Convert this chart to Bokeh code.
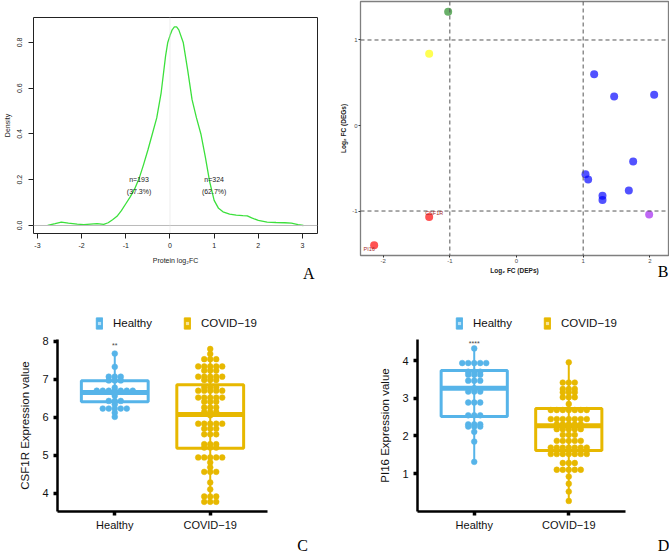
from bokeh.plotting import figure
from bokeh.layouts import column, row
from bokeh.models import Span, Label, Legend, LegendItem, FixedTicker, LinearAxis
from bokeh.embed import file_html
from bokeh.resources import INLINE

NAN = float("nan")

# ---------------- Panel A data (density of protein log2FC) ----------------
density_x = [-2.77, -2.6, -2.46, -2.3, -2.1, -1.95, -1.8, -1.65, -1.5, -1.4, -1.3, -1.2,
             -1.1, -1.0, -0.9, -0.8, -0.7, -0.6, -0.5, -0.4, -0.3, -0.2, -0.1, -0.05, 0.0,
             0.05, 0.1, 0.15, 0.2, 0.3, 0.4, 0.5, 0.6, 0.7, 0.8, 0.9, 1.0, 1.1, 1.2, 1.35,
             1.5, 1.65, 1.75, 1.85, 2.0, 2.2, 2.4, 2.6, 2.75, 2.9, 3.02]
density_y = [0.0, 0.008, 0.015, 0.01, 0.006, 0.004, 0.006, 0.008, 0.005, 0.012, 0.025, 0.04,
             0.065, 0.095, 0.125, 0.16, 0.205, 0.265, 0.33, 0.40, 0.47, 0.58, 0.74, 0.80, 0.83,
             0.855, 0.868, 0.868, 0.855, 0.80, 0.68, 0.55, 0.47, 0.40, 0.30, 0.19, 0.11, 0.075,
             0.06, 0.05, 0.045, 0.043, 0.042, 0.033, 0.022, 0.015, 0.013, 0.012, 0.01, 0.004, 0.0]
count_labels = ["n=193", "n=324"]
pct_labels = ["(37.3%)", "(62.7%)"]
count_label_x = [-0.7, 1.0]
count_label_y = [0.2, 0.15]
a_xticks = [-3, -2, -1, 0, 1, 2, 3]
a_yticks = [0.0, 0.2, 0.4, 0.6, 0.8]

# ---------------- Panel B data (DEPs vs DEGs) ----------------
deps_fc = [-1.025, -1.31, 1.165, 1.465, 2.065, 1.75, 1.035, 1.075, 1.685, 1.29, 1.29, 1.99, -1.31, -2.135]
degs_fc = [1.33, 0.84, 0.60, 0.34, 0.36, -0.42, -0.57, -0.63, -0.76, -0.82, -0.87, -1.04, -1.07, -1.40]
point_group = ["green", "yellow", "blue", "blue", "blue", "blue", "blue", "blue", "blue",
               "blue", "blue", "purple", "red", "red"]
group_colors = {"green": "#228B22", "yellow": "#FFFF00", "blue": "#0000FF",
                "purple": "#A020F0", "red": "#FF0000"}
gene_labels = ["CSF1R", "PI16"]
gene_label_x = [-1.235, -2.21]
gene_label_y = [-1.023, -1.445]
b_xticks = [-2, -1, 0, 1, 2]
b_yticks = [-1, 0, 1]

# ---------------- Panel C / D data (expression box + dot plots) ----------------
groups = ["Healthy", "COVID\u221219"]
group_pos = [1, 2]
box_colors = ["#56B4E9", "#E7B800"]

csf1r_healthy_rows = [7.68, 7.33, 7.07, 6.97, 6.78, 6.70, 6.57, 6.43, 6.34, 6.23, 6.12, 6.01]
csf1r_healthy_counts = [1, 1, 3, 3, 1, 7, 1, 3, 1, 5, 1, 1]
csf1r_covid_rows = [7.80, 7.67, 7.53, 7.34, 7.23, 7.07, 6.98, 6.79, 6.70, 6.52, 6.41, 6.26, 6.14,
                    6.05, 5.83, 5.70, 5.55, 5.29, 5.20, 4.94, 4.81, 4.68, 4.56, 4.28, 4.10, 3.91, 3.77]
csf1r_covid_counts = [1, 1, 3, 5, 3, 5, 3, 3, 5, 5, 3, 3, 3, 1, 5, 3, 3, 3, 3, 5, 1, 1, 3, 1, 1, 3, 3]
csf1r_stats = {"q1": [6.41, 5.18], "med": [6.65, 6.07], "q3": [6.96, 6.86],
               "lo": [6.01, 3.77], "hi": [7.68, 7.80]}
csf1r_yticks = [4, 5, 6, 7, 8]

pi16_healthy_rows = [4.33, 3.94, 3.71, 3.63, 3.47, 3.27, 3.18, 2.89, 2.55, 2.31, 2.25, 2.11, 1.85, 1.31]
pi16_healthy_counts = [1, 5, 3, 3, 3, 1, 3, 3, 3, 3, 3, 1, 1, 1]
pi16_covid_rows = [3.96, 3.42, 3.25, 3.16, 3.03, 2.85, 2.69, 2.45, 2.31, 2.18, 2.03, 1.87, 1.69,
                   1.52, 1.28, 1.10, 0.92, 0.73, 0.52, 0.27]
pi16_covid_counts = [1, 3, 3, 3, 3, 1, 7, 7, 5, 5, 3, 5, 7, 7, 3, 5, 1, 1, 1, 1]
pi16_stats = {"q1": [2.52, 1.61], "med": [3.27, 2.27], "q3": [3.74, 2.73],
              "lo": [1.31, 0.27], "hi": [4.33, 3.96]}
pi16_yticks = [1, 2, 3, 4]

signif_labels = ["**", "****"]

SANS = "Liberation Sans"
SERIF = "Liberation Serif"


def letter_axis(p, xpos, txt, standoff):
    ax = LinearAxis(ticker=FixedTicker(ticks=[xpos]), major_label_overrides={xpos: txt},
                    axis_line_color=None, major_tick_line_color=None, major_tick_in=0, major_tick_out=0,
                    minor_tick_line_color=None, major_label_text_font=SERIF,
                    major_label_text_font_size="16px", major_label_text_color="black",
                    major_label_standoff=standoff)
    p.add_layout(ax, "below")


def strip(width, height):
    s = figure(frame_width=width, frame_height=height, min_border=0, min_border_left=0,
               min_border_right=0, min_border_top=0, min_border_bottom=0,
               x_range=(0, width), y_range=(0, height), x_axis_location=None, y_axis_location=None,
               output_backend="svg", toolbar_location=None)
    s.grid.visible = False
    s.outline_line_color = None
    return s


# ---------------- Panel A ----------------
pa = figure(frame_width=284, frame_height=216, min_border_left=32, min_border_right=14,
            min_border_top=17, min_border_bottom=49, x_range=(-3.09, 3.34), y_range=(-0.035, 0.909),
            output_backend="svg", toolbar_location=None)
pa.grid.visible = False
pa.outline_line_color = "#222222"
pa.outline_line_width = 1
pa.add_layout(Span(location=0, dimension="width", line_color="#BBBBBB", line_width=1))
pa.add_layout(Span(location=0, dimension="height", line_color="#DDDDDD", line_width=1, line_dash="1 1"))
pa.line(density_x, density_y, line_color="#3CE03C", line_width=1.3)
for i in range(2):
    pa.add_layout(Label(x=count_label_x[i], y=count_label_y[0], text=count_labels[i], text_font=SANS,
                        text_font_size="7px", text_align="center", text_baseline="middle",
                        text_color="#222222"))
    pa.add_layout(Label(x=count_label_x[i], y=count_label_y[1], text=pct_labels[i], text_font=SANS,
                        text_font_size="7px", text_align="center", text_baseline="middle",
                        text_color="#222222"))
for ax in (pa.xaxis, pa.yaxis):
    ax.axis_line_color = None
    ax.major_tick_in = 0
    ax.major_tick_out = 5
    ax.major_tick_line_color = "#222222"
    ax.minor_tick_line_color = None
    ax.major_label_text_font = SANS
    ax.major_label_text_font_size = "7px"
    ax.major_label_text_color = "#222222"
    ax.axis_label_text_font = SANS
    ax.axis_label_text_font_size = "7px"
    ax.axis_label_text_font_style = "normal"
    ax.axis_label_text_color = "#222222"
pa.xaxis.ticker = FixedTicker(ticks=a_xticks)
pa.xaxis.major_label_overrides = {t: str(t) for t in a_xticks}
pa.yaxis.ticker = FixedTicker(ticks=a_yticks)
pa.yaxis.major_label_overrides = {t: "%.1f" % t for t in a_yticks}
pa.yaxis.major_label_orientation = "vertical"
pa.xaxis.major_label_standoff = 4
pa.yaxis.major_label_standoff = 6
pa.xaxis.axis_label = "Protein log\u2082FC"
pa.yaxis.axis_label = "Density"
pa.xaxis.axis_label_standoff = 6
pa.yaxis.axis_label_standoff = 4
letter_axis(pa, 3.14, "A", -2)

# ---------------- Panel B ----------------
pb = figure(frame_width=308, frame_height=254, min_border_left=29, min_border_right=2,
            min_border_top=1, min_border_bottom=27, x_range=(-2.34, 2.28), y_range=(-1.52, 1.45),
            output_backend="svg", toolbar_location=None)
pb.grid.visible = False
pb.outline_line_color = "#7F7F7F"
pb.outline_line_width = 1.3
for loc in (-1, 1):
    pb.add_layout(Span(location=loc, dimension="height", line_color="#555555", line_width=1, line_dash="4 3"))
    pb.add_layout(Span(location=loc, dimension="width", line_color="#555555", line_width=1, line_dash="4 3"))
pb.scatter(deps_fc, degs_fc, size=8, fill_color=[group_colors[g] for g in point_group],
           line_color=None, fill_alpha=0.68)
for i in range(2):
    pb.add_layout(Label(x=gene_label_x[i], y=gene_label_y[i], text=gene_labels[i], text_font=SANS,
                        text_font_size="5.5px", text_align="center", text_baseline="middle",
                        text_color="#A52A2A"))
for ax in (pb.xaxis, pb.yaxis):
    ax.axis_line_color = None
    ax.major_tick_in = 0
    ax.major_tick_out = 2
    ax.major_tick_line_color = "#333333"
    ax.minor_tick_line_color = None
    ax.major_label_text_font = SANS
    ax.major_label_text_font_size = "6px"
    ax.major_label_text_color = "#4D4D4D"
    ax.major_label_standoff = 1
    ax.axis_label_text_font = SANS
    ax.axis_label_text_font_size = "6.5px"
    ax.axis_label_text_font_style = "bold"
    ax.axis_label_text_color = "#222222"
    ax.axis_label_standoff = 1
pb.xaxis.ticker = FixedTicker(ticks=b_xticks)
pb.xaxis.major_label_overrides = {t: str(t) for t in b_xticks}
pb.yaxis.ticker = FixedTicker(ticks=b_yticks)
pb.yaxis.major_label_overrides = {t: str(t) for t in b_yticks}
pb.yaxis.axis_label_standoff = 2
pb.xaxis.axis_label = "Log\u2082 FC (DEPs)"
pb.yaxis.axis_label = "Log\u2082 FC (DEGs)"
letter_axis(pb, 2.20, "B", -14)


# ---------------- Panels C / D ----------------
def expression_panel(rows_list, counts_list, stats, yrange, yticks, ylabel, star, star_y,
                     frame_w, border_l, border_r):
    p = figure(frame_width=frame_w, frame_height=172, min_border_left=border_l, min_border_right=border_r,
               min_border_top=8, min_border_bottom=21, x_range=(0.4, 2.6), y_range=yrange,
               output_backend="svg", toolbar_location=None)
    p.grid.visible = False
    p.outline_line_color = None
    dx = 6.0 * 2.2 / frame_w  # dot spacing: 6 px
    for gi in range(2):
        c = box_colors[gi]
        pos = group_pos[gi]
        p.segment(x0=[pos], y0=[stats["lo"][gi]], x1=[pos], y1=[stats["hi"][gi]], line_color=c, line_width=2)
        xs, ys = [], []
        for v, n in zip(rows_list[gi], counts_list[gi]):
            for k in range(n):
                xs.append(pos + (k - (n - 1) / 2) * dx)
                ys.append(v)
        p.scatter(xs, ys, size=5.8, fill_color=c, line_color=c, line_width=0.5)
        p.quad(left=[pos - 0.35], right=[pos + 0.35], bottom=[stats["q1"][gi]], top=[stats["q3"][gi]],
               fill_color=None, line_color=c, line_width=3)
        p.segment(x0=[pos - 0.35], y0=[stats["med"][gi]], x1=[pos + 0.35], y1=[stats["med"][gi]],
                  line_color=c, line_width=5)
    p.add_layout(Label(x=1, y=star_y, text=star, text_font=SANS, text_font_size="7px",
                       text_align="center", text_baseline="middle", text_color="#444444"))
    for ax in (p.xaxis, p.yaxis):
        ax.axis_line_color = "black"
        ax.axis_line_width = 2.5
        ax.major_tick_in = 0
        ax.major_tick_out = 4
        ax.major_tick_line_width = 3.5
        ax.major_tick_line_color = "black"
        ax.minor_tick_line_color = None
        ax.major_label_text_font = SANS
        ax.major_label_text_font_size = "11px"
        ax.major_label_text_color = "#111111"
        ax.axis_label_text_font = SANS
        ax.axis_label_text_font_size = "11.5px"
        ax.axis_label_text_font_style = "normal"
        ax.axis_label_text_color = "#111111"
    p.xaxis.ticker = FixedTicker(ticks=group_pos)
    p.xaxis.major_label_overrides = {group_pos[i]: groups[i] for i in range(2)}
    p.xaxis.major_label_standoff = 3
    p.yaxis.ticker = FixedTicker(ticks=yticks)
    p.yaxis.major_label_overrides = {t: str(t) for t in yticks}
    p.yaxis.major_label_standoff = 5
    p.yaxis.axis_label = ylabel
    p.yaxis.axis_label_standoff = 8
    return p


def legend_strip(width, x_loc):
    s = strip(width, 47)
    items = []
    for gi in range(2):
        c = box_colors[gi]
        r1 = s.quad(left=[NAN], right=[NAN], bottom=[NAN], top=[NAN], fill_color=c, line_color=c,
                    line_width=1)
        r2 = s.scatter([NAN], [NAN], size=2.5, fill_color="#FFFFFF", fill_alpha=0.6, line_color=None,
                       marker="square")
        items.append(LegendItem(label=groups[gi], renderers=[r1, r2]))
    leg = Legend(items=items, orientation="horizontal", location=(x_loc, 1), glyph_width=8,
                 glyph_height=14, label_height=14, label_standoff=10, spacing=31, padding=0, margin=0,
                 border_line_color=None, background_fill_alpha=0, label_text_font=SANS,
                 label_text_font_size="11.5px", label_text_color="#111111")
    s.add_layout(leg)
    return s


def letter_strip(width, x, txt):
    s = strip(width, 23)
    s.add_layout(Label(x=x, y=11, text=txt, text_font=SERIF, text_font_size="16px",
                       text_align="center", text_baseline="middle", text_color="black"))
    return s


pc = expression_panel([csf1r_healthy_rows, csf1r_covid_rows], [csf1r_healthy_counts, csf1r_covid_counts],
                      csf1r_stats, (3.515, 8.05), csf1r_yticks, "CSF1R Expression value",
                      signif_labels[0], 7.89, 210, 57, 63)
pd_ = expression_panel([pi16_healthy_rows, pi16_covid_rows], [pi16_healthy_counts, pi16_covid_counts],
                       pi16_stats, (-0.011, 4.567), pi16_yticks, "PI16 Expression value",
                       signif_labels[1], 4.46, 208, 87, 44)

left_bottom = column(column(legend_strip(330, 95)), column(pc), column(letter_strip(330, 302, "C")))
right_bottom = column(column(legend_strip(339, 125)), column(pd_), column(letter_strip(339, 333, "D")))

layout = column(row(column(pa), column(pb)), row(left_bottom, right_bottom))
open("out.html", "w").write(file_html(layout, INLINE))
